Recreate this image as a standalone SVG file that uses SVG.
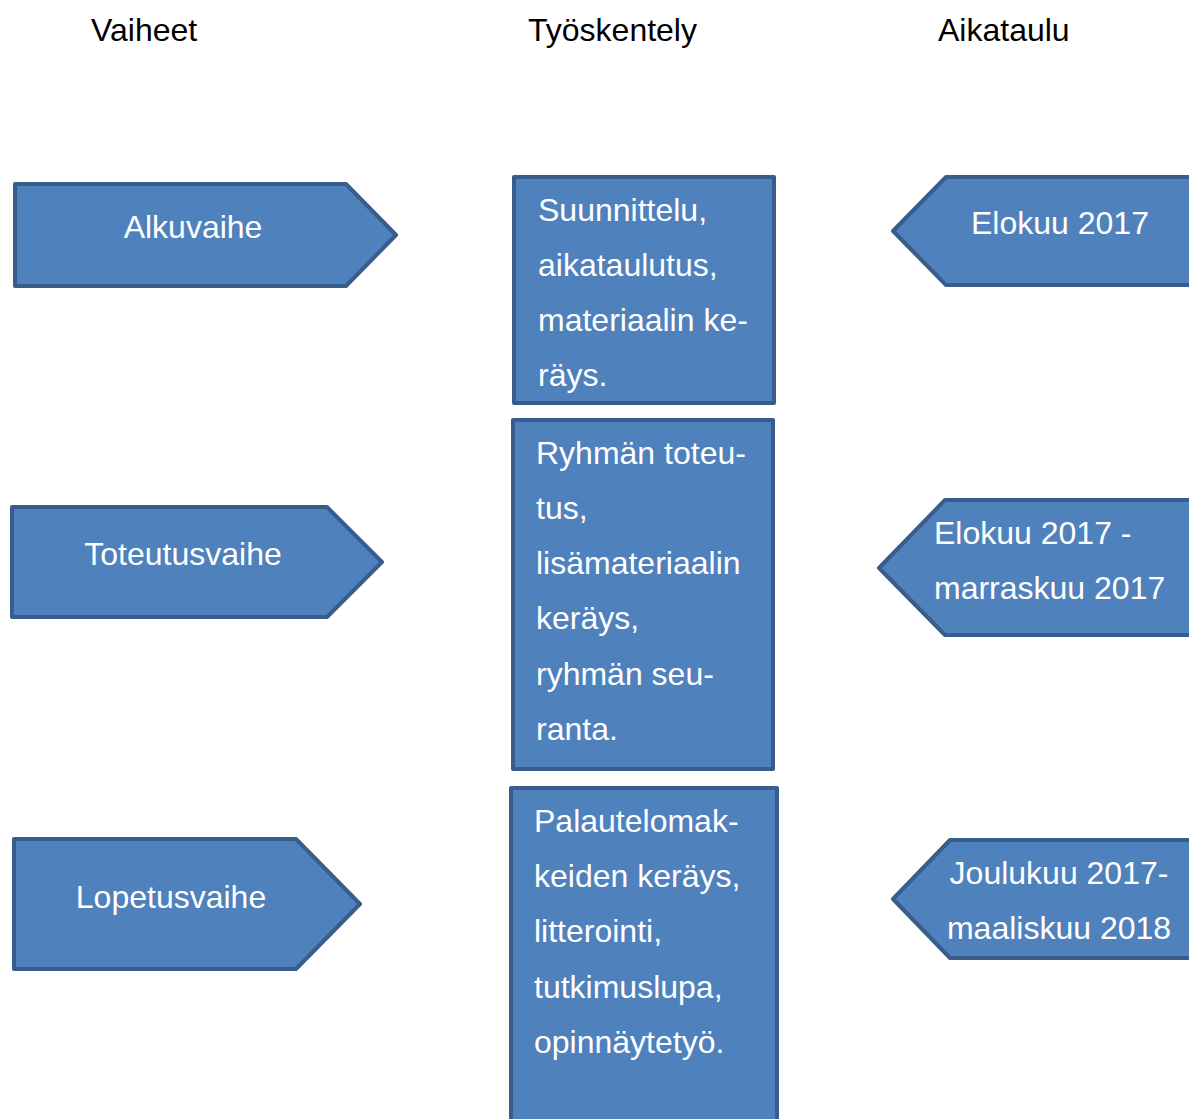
<svg xmlns="http://www.w3.org/2000/svg" width="1189" height="1119" viewBox="0 0 1189 1119">
<style>
.shape{fill:#4F81BD;stroke:#385D8A;stroke-width:4;stroke-linejoin:round}
text{font-family:"Liberation Sans",Arial,sans-serif;font-size:32px}
.h{fill:#000}
.w{fill:#fff}
.c{text-anchor:middle}
</style>
<rect width="1189" height="1119" fill="#fff"/>
<g id="headings">
<text class="h" x="91" y="41">Vaiheet</text>
<text class="h" x="528" y="41">Työskentely</text>
<text class="h" x="938" y="41">Aikataulu</text>
</g>
<g id="connectors"/>
<g id="alkuvaihe">
<polygon class="shape" points="15,184 346,184 396,235 346,286 15,286"/>
<text class="w c" x="193" y="238">Alkuvaihe</text>
</g>
<g id="toteutusvaihe">
<polygon class="shape" points="12,507 327,507 382,562 327,617 12,617"/>
<text class="w c" x="183" y="565">Toteutusvaihe</text>
</g>
<g id="lopetusvaihe">
<polygon class="shape" points="14,839 296,839 360,904 296,969 14,969"/>
<text class="w c" x="171" y="908">Lopetusvaihe</text>
</g>
<g id="tyo1">
<rect class="shape" x="514" y="177" width="260" height="226"/>
<text class="w" x="538" y="221">Suunnittelu,</text>
<text class="w" x="538" y="276">aikataulutus,</text>
<text class="w" x="538" y="331">materiaalin ke-</text>
<text class="w" x="538" y="386">räys.</text>
</g>
<g id="tyo2">
<rect class="shape" x="513" y="420" width="260" height="349"/>
<text class="w" x="536" y="464">Ryhmän toteu-</text>
<text class="w" x="536" y="519">tus,</text>
<text class="w" x="536" y="574">lisämateriaalin</text>
<text class="w" x="536" y="629">keräys,</text>
<text class="w" x="536" y="685">ryhmän seu-</text>
<text class="w" x="536" y="740">ranta.</text>
</g>
<g id="tyo3">
<rect class="shape" x="511" y="788" width="266" height="360"/>
<text class="w" x="534" y="832">Palautelomak-</text>
<text class="w" x="534" y="887">keiden keräys,</text>
<text class="w" x="534" y="942">litterointi,</text>
<text class="w" x="534" y="998">tutkimuslupa,</text>
<text class="w" x="534" y="1053">opinnäytetyö.</text>
</g>
<g id="aika1">
<polygon class="shape" points="1200,177 946,177 893,231 946,285 1200,285"/>
<text class="w" x="971" y="234">Elokuu 2017</text>
</g>
<g id="aika2">
<polygon class="shape" points="1200,500 945,500 879,568 945,635 1200,635"/>
<text class="w" x="934" y="544">Elokuu 2017 -</text>
<text class="w" x="934" y="599">marraskuu 2017</text>
</g>
<g id="aika3">
<polygon class="shape" points="1200,840 950,840 893,899 950,958 1200,958"/>
<text class="w c" x="1059" y="884">Joulukuu 2017-</text>
<text class="w c" x="1059" y="939">maaliskuu 2018</text>
</g>
</svg>
